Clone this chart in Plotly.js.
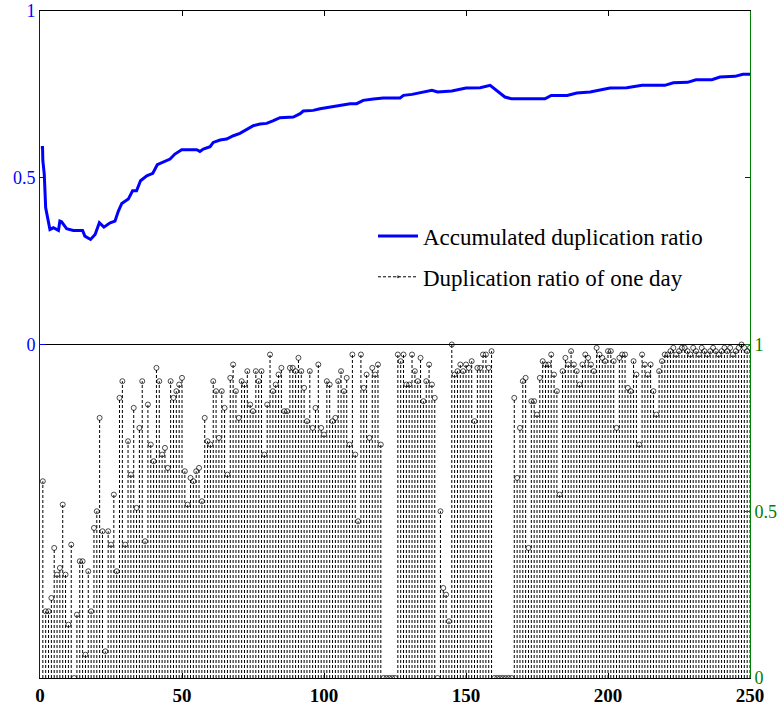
<!DOCTYPE html>
<html><head><meta charset="utf-8">
<script src="https://cdn.plot.ly/plotly-3.0.1.min.js"></script>
<style>html,body{margin:0;padding:0;background:#fff}#chart{width:781px;height:708px}</style>
</head><body><div id="chart"></div>
<script>
// Accumulated duplication ratio (read at break points of the curve)
const accDays = [0.3,0.9,1.0,1.5,2.0,2.9,3.5,4.7,6.5,7.0,7.6,9.4,11.7,15.0,15.8,17.8,19.4,20.9,22.5,24.7,26.4,27.6,28.8,31.1,32.6,34.0,35.4,37.6,39.7,41.3,43.4,45.8,47.5,49.9,55.2,56.3,57.5,59.9,61.0,63.4,65.7,68.1,70.4,72.8,75.1,77.5,79.8,82.2,84.5,89.2,91.6,92.7,96.2,98.6,102.1,105.6,109.2,111.5,113.8,117.4,120.9,126.8,128,131,138,140,145,150,155,158.5,163.7,166,177.8,180,185.6,189,193.7,200.7,206.6,212,220,223,228,231,236.6,239.4,244.7,247.5,250];
const accRatio = [0.591,0.591,0.551,0.511,0.41,0.365,0.345,0.35,0.342,0.37,0.368,0.347,0.342,0.342,0.325,0.315,0.33,0.365,0.352,0.365,0.37,0.40,0.423,0.436,0.461,0.461,0.491,0.506,0.513,0.539,0.546,0.556,0.571,0.584,0.584,0.579,0.586,0.593,0.606,0.613,0.616,0.626,0.633,0.646,0.656,0.661,0.663,0.671,0.68,0.682,0.692,0.70,0.702,0.707,0.712,0.717,0.722,0.722,0.732,0.736,0.739,0.739,0.747,0.75,0.762,0.757,0.76,0.769,0.77,0.777,0.742,0.737,0.737,0.747,0.747,0.754,0.757,0.769,0.77,0.777,0.777,0.785,0.786,0.794,0.794,0.802,0.804,0.81,0.81];

// Duplication ratio of one day, days 1..250
const dailyRatio = [
0.59,0.20,0.20,0.24,0.39,0.31,0.33,0.52,0.31,0.16,
0.40,0.00,0.19,0.35,0.35,0.07,0.32,0.20,0.45,0.50,
0.78,0.44,0.08,0.44,0.40,0.55,0.32,0.84,0.89,0.40,
0.71,0.61,0.81,0.51,0.75,0.89,0.41,0.82,0.70,0.65,
0.93,0.89,0.67,0.69,0.63,0.89,0.84,0.86,0.88,0.90,
0.62,0.52,0.60,0.59,0.62,0.63,0.53,0.78,0.71,0.70,
0.89,0.86,0.72,0.86,0.81,0.61,0.90,0.94,0.86,0.78,
0.89,0.88,0.92,0.82,0.80,0.92,0.89,0.92,0.67,0.82,
0.97,0.86,0.88,0.91,0.93,0.80,0.80,0.93,0.93,0.92,
0.96,0.92,0.87,0.77,0.92,0.75,0.81,0.94,0.75,0.73,
0.89,0.88,0.77,0.78,0.89,0.92,0.86,0.90,0.70,0.97,
0.67,0.47,0.97,0.87,0.91,0.72,0.93,0.91,0.94,0.70,
0.00,0.00,0.00,0.00,0.00,0.97,0.95,0.97,0.88,0.88,
0.97,0.92,0.89,0.96,0.83,0.89,0.94,0.88,0.84,0.00,
0.50,0.27,0.25,0.17,1.00,0.91,0.92,0.94,0.92,0.94,
0.93,0.95,0.77,0.93,0.93,0.97,0.97,0.93,0.98,0.00,
0.00,0.00,0.00,0.00,0.00,0.00,0.84,0.60,0.75,0.89,
0.90,0.39,0.83,0.83,0.79,0.90,0.95,0.94,0.94,0.97,
0.91,0.86,0.55,0.92,0.96,0.94,0.98,0.94,0.92,0.88,
0.94,0.97,0.96,0.94,0.92,0.99,0.97,0.96,0.95,0.98,
0.98,0.95,0.75,0.96,0.97,0.97,0.87,0.86,0.95,0.91,
0.70,0.97,0.94,0.91,0.94,0.86,0.79,0.92,0.95,0.97,
0.97,0.98,0.99,0.97,0.98,0.99,0.99,0.98,0.97,0.99,
0.98,0.97,0.99,0.98,0.97,0.98,0.99,0.98,0.97,0.98,
0.99,0.98,0.99,0.97,0.98,0.99,1.00,0.99,0.98,0.99];

const xTickVals = [0,50,100,150,200,250];
const leftTickVals = [0,0.5,1];
const leftTickText = ['0','0.5','1'];
const rightTickVals = [0,0.5,1];
const rightTickText = ['0','0.5','1'];
const seriesNames = ['Accumulated duplication ratio','Duplication ratio of one day'];

const stemX = [], stemY = [], stemSize = [];
dailyRatio.forEach((v, i) => {
  const d = i + 1;
  stemX.push(d, d, null);
  stemY.push(0, v, null);
  stemSize.push(0, 5, 0);
});

const serif = 'Liberation Serif, Times New Roman, serif';

const traces = [
  {
    x: accDays, y: accRatio, type: 'scatter', mode: 'lines',
    name: seriesNames[0], legendgroup: 'a',
    line: {color: '#0000ff', width: 3},
    xaxis: 'x', yaxis: 'y', hoverinfo: 'skip'
  },
  {
    x: stemX, y: stemY, type: 'scatter', mode: 'lines+markers',
    name: seriesNames[1], legendgroup: 'b',
    connectgaps: false,
    line: {color: '#000000', width: 1, dash: '3px,2px'},
    marker: {symbol: 'circle-open', size: stemSize, color: '#000000', line: {width: 1, color: '#000000'}},
    xaxis: 'x', yaxis: 'y2', hoverinfo: 'skip'
  }
];

const layout = {
  width: 781, height: 708,
  margin: {l: 40, r: 31, t: 11, b: 30, pad: 0},
  paper_bgcolor: '#ffffff', plot_bgcolor: '#ffffff',
  showlegend: true,
  legend: {
    x: 0.469, y: 0.695, xanchor: 'left', yanchor: 'top',
    bgcolor: 'rgba(0,0,0,0)', borderwidth: 0,
    font: {family: serif, size: 23, color: '#000000'},
    itemwidth: 40, tracegroupgap: 8, traceorder: 'grouped'
  },
  xaxis: {
    range: [0, 250], tickvals: xTickVals, ticktext: xTickVals.map(String),
    ticks: 'inside', ticklen: 5, tickcolor: '#000000', tickwidth: 1,
    showline: true, linecolor: '#000000', linewidth: 1, mirror: 'ticks',
    zeroline: false, showgrid: false,
    tickfont: {family: serif, size: 19, color: '#000000', weight: 'bold'}
  },
  yaxis: {
    range: [-1, 1], tickvals: leftTickVals, ticktext: leftTickText,
    ticks: 'inside', ticklen: 5, tickcolor: '#0000ff', tickwidth: 1,
    showline: true, linecolor: '#0000ff', linewidth: 1, mirror: 'ticks',
    zeroline: true, zerolinecolor: '#000000', zerolinewidth: 1,
    showgrid: false,
    tickfont: {family: serif, size: 18, color: '#0000ff'}
  },
  yaxis2: {
    overlaying: 'y', side: 'right', anchor: 'x',
    range: [0, 2], tickvals: rightTickVals, ticktext: rightTickText,
    ticks: 'inside', ticklen: 5, tickcolor: '#008000', tickwidth: 1,
    showline: true, linecolor: '#008000', linewidth: 1,
    zeroline: false, showgrid: false,
    tickfont: {family: serif, size: 18, color: '#008000'}
  }
};

Plotly.newPlot('chart', traces, layout, {staticPlot: true, displayModeBar: false});
</script>
</body></html>
